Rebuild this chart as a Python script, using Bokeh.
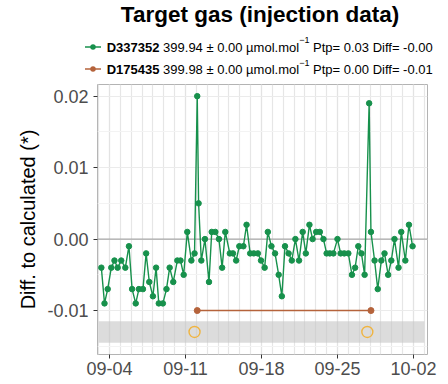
import pandas as pd
from bokeh.plotting import figure
from bokeh.layouts import column
from bokeh.models import (Range1d, FixedTicker, DatetimeTickFormatter,
                          NumeralTickFormatter, Span, Title, Div)
from bokeh.embed import file_html
from bokeh.resources import INLINE

YEAR = "2019"

title_text = "Target gas (injection data)"
y_label_text = "Diff. to calculated (*)"

series_ids = ["D337352", "D175435"]
series_desc = ["399.94 \u00b1 0.00 \u00b5mol.mol", "399.98 \u00b1 0.00 \u00b5mol.mol"]
series_stats = ["Ptp= 0.03 Diff= -0.00", "Ptp= 0.00 Diff= -0.01"]
unit_sup = "\u22121"

green_times = [
    "09-03 06:00", "09-03 13:00", "09-03 20:00", "09-04 04:00", "09-04 11:00",
    "09-04 18:00", "09-05 02:00", "09-05 11:00", "09-05 19:00", "09-06 02:00",
    "09-06 10:00", "09-06 17:00", "09-07 02:00", "09-07 09:00", "09-07 16:00",
    "09-08 00:00", "09-08 07:00", "09-08 13:00", "09-08 22:00", "09-09 06:00",
    "09-09 13:00", "09-09 21:00", "09-10 06:00", "09-10 13:00", "09-10 20:00",
    "09-11 04:00", "09-11 13:00", "09-11 20:00", "09-12 02:00", "09-12 05:00",
    "09-12 11:00", "09-12 19:00", "09-13 04:00", "09-13 10:00", "09-13 18:00",
    "09-14 02:00", "09-14 09:00", "09-14 16:00", "09-15 02:00", "09-15 09:00",
    "09-15 16:00", "09-15 23:00", "09-16 08:00", "09-16 15:00", "09-16 23:00",
    "09-17 07:00", "09-17 16:00", "09-17 23:00", "09-18 07:00", "09-18 14:00",
    "09-18 22:00", "09-19 06:00", "09-19 14:00", "09-19 21:00", "09-20 04:00",
    "09-20 12:00", "09-20 19:00", "09-21 03:00", "09-21 11:00", "09-21 19:00",
    "09-22 02:00", "09-22 10:00", "09-22 17:00", "09-23 01:00", "09-23 09:00",
    "09-23 17:00", "09-24 00:00", "09-24 07:00", "09-24 15:00", "09-25 00:00",
    "09-25 07:00", "09-25 15:00", "09-26 00:00", "09-26 08:00", "09-26 15:00",
    "09-26 22:00", "09-27 05:00", "09-27 12:00", "09-27 22:00", "09-28 02:00",
    "09-28 10:00", "09-28 17:00", "09-29 01:00", "09-29 08:00", "09-29 16:00",
    "09-29 23:00", "09-30 06:00", "09-30 15:00", "09-30 21:00", "10-01 06:00",
    "10-01 14:00", "10-01 22:00",
]
green_values = [
    -0.004, -0.009, -0.007, -0.004, -0.003,
    -0.004, -0.003, -0.004, -0.001, -0.007,
    -0.009, -0.007, -0.007, -0.002, -0.006,
    -0.008, -0.004, -0.009, -0.009, -0.007,
    -0.004, -0.006, -0.003, -0.003, -0.005,
    0.001, -0.003, -0.002, 0.020, 0.005,
    -0.003, 0.000, -0.006, 0.001, 0.001,
    0.000, -0.004, 0.001, -0.002, -0.002,
    -0.003, -0.001, -0.001, 0.002, -0.002,
    -0.002, -0.002, -0.003, -0.004, 0.001,
    -0.001, -0.002, -0.005, -0.008, -0.001,
    -0.002, -0.003, 0.000, -0.003, 0.001,
    -0.002, 0.002, 0.000, 0.001, 0.001,
    0.000, -0.002, -0.002, -0.002, 0.000,
    -0.002, -0.002, -0.002, -0.005, -0.004,
    -0.001, -0.002, -0.005, 0.019, 0.001,
    -0.003, -0.007, -0.003, -0.002, -0.005,
    -0.003, 0.000, -0.004, 0.001, -0.003,
    0.002, -0.001,
]

brown_times = ["09-12 02:00", "09-28 02:00"]
brown_values = [-0.010, -0.010]

flag_times = ["09-11 20:00", "09-27 18:00"]
flag_values = [-0.013, -0.013]

band_start = "09-03 00:00"
band_end = "10-03 00:00"
band_low = -0.0145
band_high = -0.0115

x_start = "09-02 21:30"
x_end = "10-03 07:00"
y_start = -0.01615
y_end = 0.02163

major_dates = ["09-04", "09-11", "09-18", "09-25", "10-02"]
grid_first_day = "09-03"
grid_last_day = "10-03"
y_ticks = [-0.01, 0.0, 0.01, 0.02]
y_minor = [-0.015, -0.005, 0.005, 0.015]

GREEN = "#17914c"
BROWN = "#b5633b"
ORANGE = "#f0b440"
FONT_NAME = "Liberation Sans"


def ts(s):
    return pd.Timestamp(f"{YEAR}-{s}")


def ms(s):
    return ts(s).value // 10**6


gx = [ts(s) for s in green_times]
bx = [ts(s) for s in brown_times]
fx = [ts(s) for s in flag_times]

W, H = 440, 382
HEAD_H = 76
FL, FR, FT, FB = 97, 427, 84, 354   # frame edges in page pixels

# ---------------- header (title + legend) ----------------
font_css = f"font-family:'{FONT_NAME}',Arial,sans-serif;color:#000;"
parts = [f'<div style="position:relative;width:{W}px;height:{HEAD_H}px;{font_css}">',
         f'<div style="position:absolute;left:80px;width:360px;top:3.7px;text-align:center;'
         f'font-size:22.5px;line-height:22.5px;font-weight:bold;white-space:nowrap;">'
         f'{title_text}</div>']
for center, base, color, ident, desc, stats in [
        (46.7, 51.7, GREEN, series_ids[0], series_desc[0], series_stats[0]),
        (69.3, 74.0, BROWN, series_ids[1], series_desc[1], series_stats[1])]:
    parts.append(
        f'<svg width="16" height="20" style="position:absolute;left:85px;top:{center - 10}px;">'
        f'<line x1="0" y1="10" x2="16" y2="10" stroke="{color}" stroke-width="1.5"/>'
        f'<circle cx="8" cy="10" r="2.75" fill="{color}"/></svg>')
    parts.append(
        f'<div style="position:absolute;left:106.7px;top:{base - 11.0:.1f}px;font-size:13px;'
        f'line-height:13px;white-space:nowrap;"><b>{ident}</b> {desc}'
        f'<span style="font-size:9px;position:relative;top:-8.5px;">{unit_sup}</span> '
        f'{stats}</div>')
parts.append('</div>')
header = Div(text="".join(parts), width=W, height=HEAD_H, styles={"margin": "0", "padding": "0"})

# ---------------- main plot ----------------
p = figure(width=W, height=H - HEAD_H, x_axis_type="datetime",
           x_range=Range1d(ts(x_start), ts(x_end)), y_range=Range1d(y_start, y_end),
           output_backend="svg", toolbar_location=None,
           min_border_left=FL, min_border_right=W - FR,
           min_border_top=FT - HEAD_H, min_border_bottom=H - FB)

p.background_fill_color = "white"
p.border_fill_color = "white"
p.outline_line_color = "#b3b3b3"
p.outline_line_width = 1

days = pd.date_range(ts(grid_first_day), ts(grid_last_day), freq="D")
xticker = FixedTicker(ticks=[ms(d) for d in major_dates],
                      minor_ticks=[d.value // 10**6 for d in days])
p.xaxis.ticker = xticker
p.xgrid.ticker = xticker
fmt = "%m-%d"
p.xaxis.formatter = DatetimeTickFormatter(days=fmt, months=fmt, hours=fmt, years=fmt,
                                          hourmin=fmt, minutes=fmt)
yticker = FixedTicker(ticks=y_ticks, minor_ticks=y_minor)
p.yaxis.ticker = yticker
p.ygrid.ticker = yticker
p.yaxis.formatter = NumeralTickFormatter(format="0.00")

p.xgrid.grid_line_color = "#e3e3e3"
p.xgrid.grid_line_width = 1.2
p.xgrid.minor_grid_line_color = "#e6e6e6"
p.xgrid.minor_grid_line_width = 1.2
p.ygrid.grid_line_color = "#ebebeb"
p.ygrid.grid_line_width = 1.1
p.ygrid.minor_grid_line_color = "#f3f3f3"
p.ygrid.minor_grid_line_width = 1.0

for ax in (p.xaxis, p.yaxis):
    ax.axis_line_color = None
    ax.major_tick_line_color = "#333333"
    ax.major_tick_out = 4
    ax.major_tick_in = 0
    ax.minor_tick_line_color = None
    ax.major_label_text_font = FONT_NAME
    ax.major_label_text_font_size = "18px"
    ax.major_label_text_color = "#4d4d4d"
p.xaxis.major_label_standoff = 3
p.yaxis.major_label_standoff = 5

# y-axis title (shifted upward like the reference)
p.add_layout(Title(text=y_label_text, align="center", offset=29, standoff=12,
                   text_font=FONT_NAME, text_font_size="20px", text_font_style="normal",
                   text_color="#000000"), "left")

zero = Span(location=0, dimension="width", line_color="#a8a8a8", line_width=1.4,
            level="underlay")
p.add_layout(zero)

p.quad(left=[ts(band_start)], right=[ts(band_end)], bottom=[band_low], top=[band_high],
       fill_color="#c4c4c4", fill_alpha=0.6, line_color=None)

p.line(x=gx, y=green_values, line_color=GREEN, line_width=1.4)
p.scatter(x=gx, y=green_values, size=5.5, fill_color=GREEN, line_color=GREEN)

p.line(x=bx, y=brown_values, line_color=BROWN, line_width=1.4)
p.scatter(x=bx, y=brown_values, size=6, fill_color=BROWN, line_color=BROWN)

p.scatter(x=fx, y=flag_values, size=11, fill_color=None, line_color=ORANGE, line_width=1.4)

layout = column(header, p, spacing=0)
open("out.html", "w").write(file_html(layout, INLINE))
